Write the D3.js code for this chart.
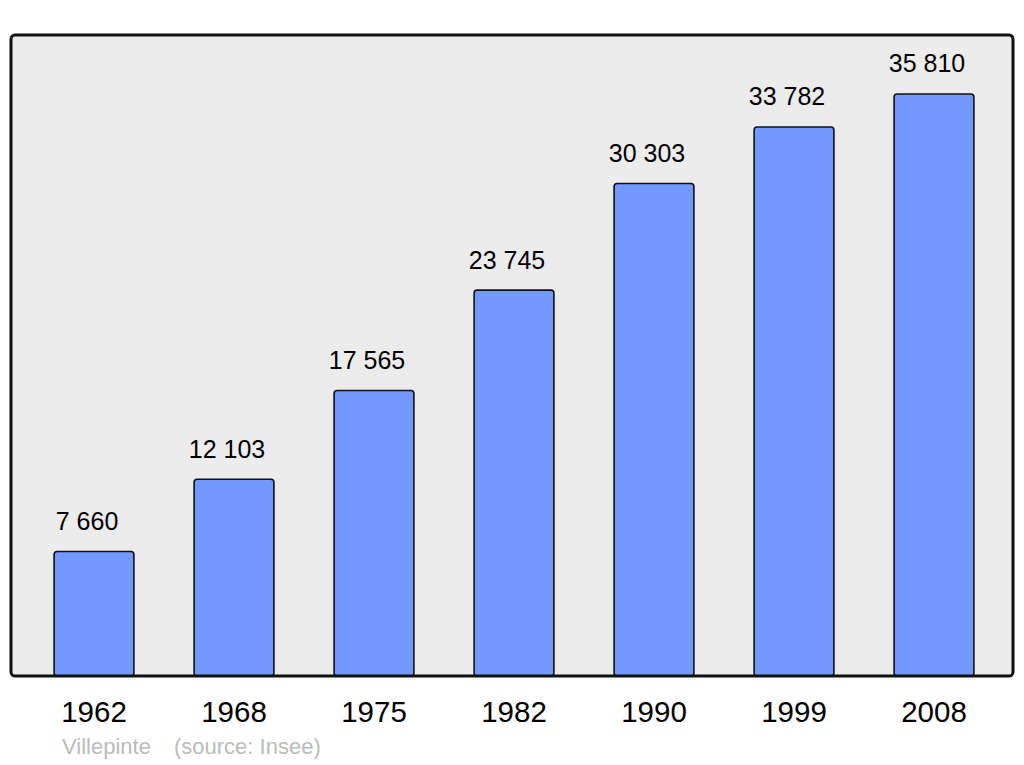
<!DOCTYPE html>
<html>
<head>
<meta charset="utf-8">
<script src="https://cdn.jsdelivr.net/npm/d3@7"></script>
<style>
	body { margin: 0; background: #fff; }
	text { font-family: "Liberation Sans", Arial, sans-serif; }
</style>
</head>
<body>
<script>
var years = ["1962", "1968", "1975", "1982", "1990", "1999", "2008"];
var population = [7660, 12103, 17565, 23745, 30303, 33782, 35810];
var valueLabels = ["7 660", "12 103", "17 565", "23 745", "30 303", "33 782", "35 810"];

var width = 1024, height = 765;
var panel = { left: 11, top: 35, right: 1013, bottom: 676 };

var svg = d3.select("body")
	.append("svg")
		.attr("width", width)
		.attr("height", height);

svg.append("rect")
		.attr("x", panel.left)
		.attr("y", panel.top)
		.attr("width", panel.right - panel.left)
		.attr("height", panel.bottom - panel.top)
		.attr("rx", 4)
		.attr("ry", 4)
		.attr("fill", "#ececec")
		.attr("stroke", "none");

var x = d3.scaleBand()
		.domain(years)
		.range([24, 1004])
		.paddingInner(0.43)
		.paddingOuter(0.215);

var y = d3.scaleLinear()
		.domain([0, 39440])
		.range([panel.bottom, panel.top]);

svg.append("g")
	.selectAll("rect")
		.data(population)
	.enter()
	.append("rect")
		.attr("x", function(d, i) { return x(years[i]); })
		.attr("y", function(d) { return y(d); })
		.attr("width", x.bandwidth())
		.attr("height", function(d) { return y(0) - y(d); })
		.attr("rx", 3)
		.attr("ry", 3)
		.attr("fill", "#7399ff")
		.attr("stroke", "#111")
		.attr("stroke-width", 1.6);

// panel outline drawn on top of the bar feet
svg.append("rect")
		.attr("x", panel.left)
		.attr("y", panel.top)
		.attr("width", panel.right - panel.left)
		.attr("height", panel.bottom - panel.top)
		.attr("rx", 4)
		.attr("ry", 4)
		.attr("fill", "none")
		.attr("stroke", "#111")
		.attr("stroke-width", 3);

svg.append("g")
	.selectAll("text")
		.data(population)
	.enter()
	.append("text")
		.attr("x", function(d, i) { return x(years[i]) + x.bandwidth() / 2 - 7; })
		.attr("y", function(d) { return y(d) - 21.5; })
		.attr("text-anchor", "middle")
		.attr("font-size", "25px")
		.attr("fill", "#000")
		.text(function(d, i) { return valueLabels[i]; });

var xAxis = svg.append("g")
		.attr("transform", "translate(0," + panel.bottom + ")")
		.call(d3.axisBottom(x).tickSize(0));
xAxis.select(".domain").remove();
xAxis.selectAll("text")
		.attr("font-family", "Liberation Sans, Arial, sans-serif")
		.attr("font-size", "29.5px")
		.attr("fill", "#000")
		.attr("dy", null)
		.attr("y", 46);

svg.append("text")
		.attr("x", 62)
		.attr("y", 754)
		.attr("font-size", "22px")
		.attr("fill", "#bbbbbb")
		.text("Villepinte");
svg.append("text")
		.attr("x", 174)
		.attr("y", 754)
		.attr("font-size", "22px")
		.attr("fill", "#bbbbbb")
		.text("(source: Insee)");
</script>
</body>
</html>
